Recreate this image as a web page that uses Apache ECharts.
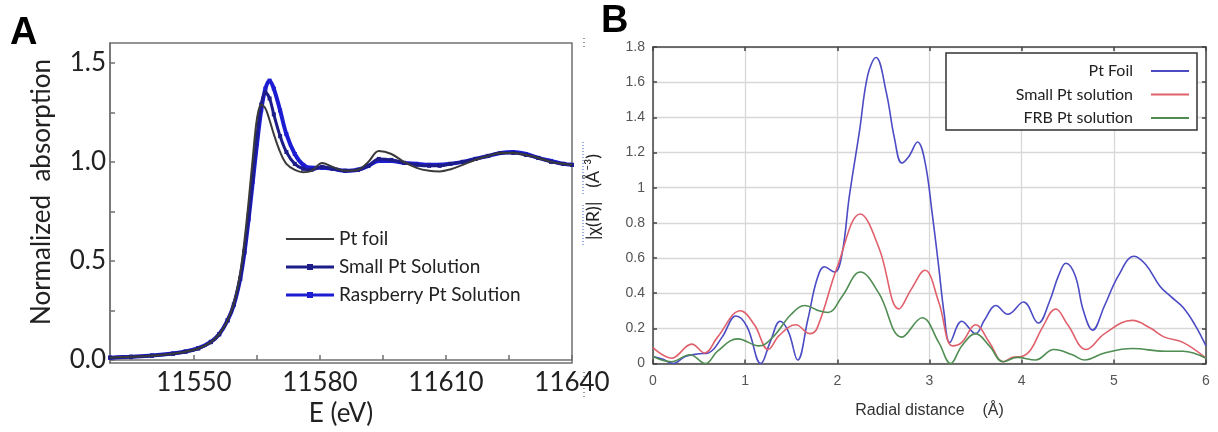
<!DOCTYPE html>
<html><head><meta charset="utf-8">
<script src="https://cdn.jsdelivr.net/npm/echarts@6/dist/echarts.min.js"></script>
<style>html,body{margin:0;padding:0;background:#fff}#c{width:1218px;height:432px}</style>
</head><body><div id="c"></div>
<script>
// ---------- Panel A: XANES ----------
const aEnergy = [11530, 11535, 11540, 11545, 11548, 11551, 11554, 11556, 11558, 11559.5, 11561, 11562, 11563, 11564, 11565, 11566, 11567, 11568, 11569, 11570.5, 11572, 11574, 11576, 11578, 11580.5, 11583, 11586, 11589, 11591.5, 11594, 11597, 11600, 11603, 11606, 11608.5, 11611, 11614, 11617, 11620, 11623, 11626, 11629, 11632, 11635, 11638, 11640];
const aPtFoil = [0.012, 0.016, 0.022, 0.032, 0.042, 0.058, 0.09, 0.13, 0.2, 0.29, 0.44, 0.6, 0.8, 1.02, 1.22, 1.29, 1.27, 1.21, 1.14, 1.05, 0.99, 0.96, 0.948, 0.955, 0.995, 0.975, 0.955, 0.96, 1.0, 1.055, 1.04, 1.0, 0.97, 0.955, 0.952, 0.962, 0.985, 1.01, 1.03, 1.045, 1.045, 1.035, 1.02, 1.0, 0.99, 0.985];
const aSmall = [0.012, 0.016, 0.022, 0.032, 0.042, 0.058, 0.09, 0.13, 0.2, 0.28, 0.41, 0.55, 0.73, 0.93, 1.13, 1.29, 1.35, 1.32, 1.24, 1.13, 1.05, 0.99, 0.965, 0.96, 0.975, 0.965, 0.955, 0.96, 0.98, 1.015, 1.01, 0.995, 0.985, 0.98, 0.98, 0.99, 1.0, 1.015, 1.03, 1.045, 1.045, 1.035, 1.02, 1.0, 0.99, 0.985];
const aRaspberry = [0.012, 0.017, 0.023, 0.033, 0.043, 0.06, 0.092, 0.13, 0.2, 0.28, 0.41, 0.54, 0.71, 0.9, 1.09, 1.26, 1.37, 1.41, 1.37, 1.26, 1.14, 1.04, 0.985, 0.97, 0.97, 0.965, 0.955, 0.96, 0.98, 1.005, 1.005, 0.995, 0.99, 0.985, 0.985, 0.99, 1.0, 1.015, 1.03, 1.045, 1.05, 1.04, 1.02, 1.005, 0.99, 0.985];
const aXLabels = [11550, 11580, 11610, 11640];
const aXTicks = [11535, 11550, 11565, 11580, 11595, 11610, 11625, 11640];
const aYLabels = [0, 0.5, 1.0, 1.5];
const aYTicks = [0, 0.25, 0.5, 0.75, 1.0, 1.25, 1.5];

// ---------- Panel B: FT-EXAFS ----------
const bFoilR = [0, 0.1, 0.22, 0.35, 0.5, 0.6, 0.75, 0.9, 1.02, 1.17, 1.27, 1.38, 1.47, 1.57, 1.68, 1.78, 1.86, 1.97, 2.05, 2.13, 2.24, 2.33, 2.42, 2.53, 2.62, 2.7, 2.78, 2.87, 2.95, 3.03, 3.1, 3.16, 3.22, 3.35, 3.5, 3.6, 3.72, 3.85, 4.02, 4.18, 4.3, 4.4, 4.48, 4.58, 4.67, 4.77, 4.9, 5.05, 5.22, 5.35, 5.5, 5.62, 5.75, 5.88, 6.0];
const bFoil = [0.04, 0.025, 0.0, 0.04, 0.055, 0.06, 0.15, 0.27, 0.21, 0.0, 0.12, 0.24, 0.18, 0.02, 0.25, 0.48, 0.55, 0.52, 0.62, 0.95, 1.32, 1.64, 1.74, 1.545, 1.28, 1.14, 1.18, 1.26, 1.15, 0.85, 0.55, 0.28, 0.12, 0.24, 0.17, 0.25, 0.33, 0.28, 0.35, 0.23, 0.35, 0.5, 0.57, 0.5, 0.3, 0.19, 0.33, 0.5, 0.61, 0.56, 0.44, 0.38, 0.32, 0.22, 0.1];
const bSmallR = [0, 0.2, 0.42, 0.56, 0.7, 0.95, 1.1, 1.25, 1.37, 1.55, 1.7, 1.78, 2.0, 2.25, 2.45, 2.67, 2.8, 2.95, 3.1, 3.25, 3.35, 3.5, 3.65, 3.8, 3.9, 4.0, 4.1, 4.22, 4.37, 4.5, 4.7, 4.9, 5.2, 5.4, 5.55, 5.75, 6.0];
const bSmall = [0.09, 0.03, 0.11, 0.06, 0.15, 0.3, 0.22, 0.08, 0.16, 0.22, 0.17, 0.2, 0.55, 0.85, 0.66, 0.31, 0.42, 0.53, 0.35, 0.1, 0.12, 0.22, 0.12, 0.01, 0.035, 0.04, 0.08, 0.2, 0.31, 0.22, 0.08, 0.17, 0.245, 0.2, 0.15, 0.12, 0.03];
const bFrbR = [0, 0.2, 0.4, 0.57, 0.7, 0.92, 1.15, 1.3, 1.5, 1.65, 1.8, 1.9, 2.05, 2.25, 2.45, 2.7, 2.92, 3.1, 3.23, 3.35, 3.5, 3.65, 3.8, 3.95, 4.15, 4.35, 4.55, 4.68, 4.9, 5.2, 5.55, 5.75, 6.0];
const bFrb = [0.04, 0.01, 0.05, 0.0, 0.07, 0.14, 0.1, 0.15, 0.28, 0.33, 0.3, 0.29, 0.38, 0.52, 0.4, 0.15, 0.26, 0.12, 0.0, 0.1, 0.17, 0.1, 0.01, 0.035, 0.02, 0.08, 0.05, 0.02, 0.06, 0.085, 0.07, 0.07, 0.03];
const bXMin = 0, bXMax = 6, bXInterval = 1;
const bYMin = 0, bYMax = 1.8, bYInterval = 0.2;

const zip = (xs, ys) => xs.map((x, i) => [x, ys[i]]);
const fontA = 'Lato, "Open Sans", sans-serif';
const fontB = '"Liberation Sans", Arial, sans-serif';

const iconLineOnly = 'path://M0,0M48,10M0,4.1L48,4.1L48,5.9L0,5.9Z';
const iconLineSquare = 'path://M0,0M48,10M0,3.6L48,3.6L48,6.4L0,6.4Z M21,2L27,2L27,8L21,8Z';

const chart = echarts.init(document.getElementById('c'));
const bLine = { showSymbol: false, symbol: 'none', smooth: 0.4, lineStyle: { width: 1.6 } };
const bLegend = (name, top) => ({
  data: [{ name: name, icon: 'rect' }], right: 29, top: top, align: 'right', itemWidth: 38, itemHeight: 2,
  padding: 0, selectedMode: false, z: 20,
  textStyle: { fontFamily: fontA, fontSize: 16, color: '#222', padding: [0, 13, 0, 0] }
});

chart.setOption({
  animation: false,
  backgroundColor: '#fff',
  grid: [
    { left: 110, right: 646, top: 43, bottom: 63, show: true, borderColor: '#707070', borderWidth: 1.5 },
    { left: 653, right: 12, top: 47, bottom: 68.5 }
  ],
  xAxis: [
    { type: 'value', gridIndex: 0, min: 11530, max: 11640,
      name: 'E (eV)', nameLocation: 'middle', nameGap: 38,
      nameTextStyle: { fontFamily: fontA, fontSize: 26, color: '#222' },
      axisLine: { lineStyle: { color: '#707070', width: 1.5 } },
      axisTick: { show: true, inside: true, length: 5, customValues: aXTicks, lineStyle: { color: '#707070', width: 1.5 } },
      axisLabel: { customValues: aXLabels, fontFamily: fontA, fontSize: 26, color: '#222', margin: 7,
        formatter: v => String(v) },
      splitLine: { show: false } },
    { type: 'value', gridIndex: 1, min: bXMin, max: bXMax, interval: bXInterval,
      name: 'Radial distance    (Å)', nameLocation: 'middle', nameGap: 39,
      nameTextStyle: { fontFamily: fontB, fontSize: 16, color: '#333' },
      axisLine: { lineStyle: { color: '#444', width: 1.5 } },
      axisTick: { inside: true, length: 4, lineStyle: { color: '#444', width: 1.5 } },
      axisLabel: { fontFamily: fontB, fontSize: 14, color: '#555', margin: 11 },
      splitLine: { show: true, lineStyle: { color: '#d8d8d8', width: 1.3 } } },
    { type: 'value', gridIndex: 1, position: 'top', min: bXMin, max: bXMax, interval: bXInterval,
      axisLine: { onZero: false, lineStyle: { color: '#444', width: 1.5 } },
      axisTick: { inside: true, length: 4, lineStyle: { color: '#444', width: 1.5 } },
      axisLabel: { show: false }, splitLine: { show: false } }
  ],
  yAxis: [
    { type: 'value', gridIndex: 0, min: -0.015, max: 1.6,
      name: 'Normalized  absorption', nameLocation: 'middle', nameGap: 55,
      nameTextStyle: { fontFamily: fontA, fontSize: 26, color: '#222', padding: [0, 0, 0, 22] },
      axisLine: { show: true, lineStyle: { color: '#707070', width: 1.5 } },
      axisTick: { show: true, inside: true, length: 5, customValues: aYTicks, lineStyle: { color: '#707070', width: 1.5 } },
      axisLabel: { customValues: aYLabels, fontFamily: fontA, fontSize: 26, color: '#222', margin: 4,
        formatter: v => Number(v).toFixed(1) },
      splitLine: { show: false } },
    { type: 'value', gridIndex: 1, min: bYMin, max: bYMax, interval: bYInterval,
      axisLine: { show: true, lineStyle: { color: '#444', width: 1.5 } },
      axisTick: { show: true, inside: true, length: 4, lineStyle: { color: '#444', width: 1.5 } },
      axisLabel: { fontFamily: fontB, fontSize: 14, color: '#555', margin: 8 },
      splitLine: { show: true, lineStyle: { color: '#d8d8d8', width: 1.3 } } },
    { type: 'value', gridIndex: 1, position: 'right', min: bYMin, max: bYMax, interval: bYInterval,
      axisLine: { show: true, onZero: false, lineStyle: { color: '#444', width: 1.5 } },
      axisTick: { show: true, inside: true, length: 4, lineStyle: { color: '#444', width: 1.5 } },
      axisLabel: { show: false }, splitLine: { show: false } }
  ],
  legend: [
    { data: [{ name: 'Pt foil', icon: iconLineOnly }, { name: 'Small Pt Solution', icon: iconLineSquare }, { name: 'Raspberry Pt Solution', icon: iconLineSquare }],
      orient: 'vertical', left: 286, top: 229, itemWidth: 48, itemHeight: 10, itemGap: 8, padding: 0, selectedMode: false,
      textStyle: { fontFamily: fontA, fontSize: 19, color: '#222', lineHeight: 20 } },
    bLegend('Pt Foil', 63),
    bLegend('Small Pt solution', 86.5),
    bLegend('FRB Pt solution', 110)
  ],
  graphic: [
    { type: 'text', left: 10, top: 15, z: 10, style: { text: 'A', font: 'bold 38px "Liberation Sans", Arial, sans-serif', fill: '#000' } },
    { type: 'text', left: 601, top: 3, z: 10, style: { text: 'B', font: 'bold 38px "Liberation Sans", Arial, sans-serif', fill: '#000' } },
    { type: 'text', x: 593, y: 197, rotation: Math.PI / 2, z: 10,
      style: { text: '|χ(R)|   (Å⁻³)', font: '18px Lato, sans-serif', fill: '#222', align: 'center', verticalAlign: 'middle' } },
    { type: 'rect', z: 15, shape: { x: 946, y: 53, width: 251, height: 77 },
      style: { fill: '#fff', stroke: '#333', lineWidth: 1.5 } },
    { type: 'line', z: 10, shape: { x1: 584, y1: 38, x2: 584, y2: 50 }, style: { stroke: '#333', lineDash: [1, 3], lineWidth: 1 } },
    { type: 'line', z: 10, shape: { x1: 583, y1: 142, x2: 583, y2: 196 }, style: { stroke: '#3a5fc0', lineDash: [1, 2], lineWidth: 1 } },
    { type: 'line', z: 10, shape: { x1: 583, y1: 205, x2: 583, y2: 245 }, style: { stroke: '#3a5fc0', lineDash: [1, 2], lineWidth: 1 } },
    { type: 'line', z: 10, shape: { x1: 584, y1: 372, x2: 584, y2: 398 }, style: { stroke: '#333', lineDash: [1, 3], lineWidth: 1 } }
  ],
  series: [
    { name: 'Raspberry Pt Solution', type: 'line', xAxisIndex: 0, yAxisIndex: 0, data: zip(aEnergy, aRaspberry),
      smooth: 0.35, symbol: 'rect', symbolSize: 4, showSymbol: true, color: '#1c1cd2', z: 2,
      lineStyle: { width: 4, color: '#1c1cd2' }, itemStyle: { color: '#1c1cd2' } },
    { name: 'Small Pt Solution', type: 'line', xAxisIndex: 0, yAxisIndex: 0, data: zip(aEnergy, aSmall),
      smooth: 0.35, symbol: 'rect', symbolSize: 4, showSymbol: true, color: '#1d1d8a', z: 3,
      lineStyle: { width: 3, color: '#1d1d8a' }, itemStyle: { color: '#1d1d8a' } },
    { name: 'Pt foil', type: 'line', xAxisIndex: 0, yAxisIndex: 0, data: zip(aEnergy, aPtFoil),
      smooth: 0.35, symbol: 'none', showSymbol: false, color: '#3a3a3a', z: 4,
      lineStyle: { width: 2, color: '#3a3a3a' } },
    Object.assign({ name: 'Pt Foil', type: 'line', xAxisIndex: 1, yAxisIndex: 1, data: zip(bFoilR, bFoil), color: '#4b4bc4' }, bLine),
    Object.assign({ name: 'Small Pt solution', type: 'line', xAxisIndex: 1, yAxisIndex: 1, data: zip(bSmallR, bSmall), color: '#e0606c' }, bLine),
    Object.assign({ name: 'FRB Pt solution', type: 'line', xAxisIndex: 1, yAxisIndex: 1, data: zip(bFrbR, bFrb), color: '#4f8d52' }, bLine)
  ]
});
</script>
</body></html>
